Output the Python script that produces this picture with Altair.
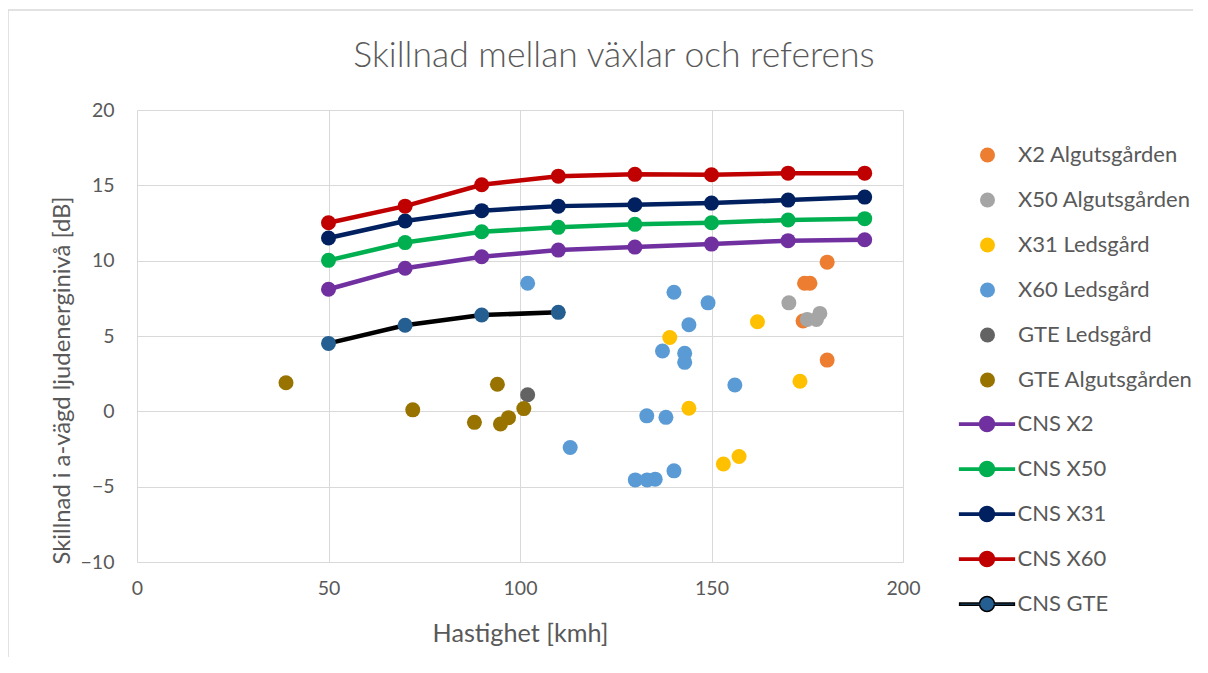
import altair as alt
import pandas as pd

# ---------------- data ----------------
scatter_series = ["X2 Algutsgården", "X50 Algutsgården", "X31 Ledsgård",
                  "X60 Ledsgård", "GTE Ledsgård", "GTE Algutsgården"]
scatter_colors = ["#ED7D31", "#A5A5A5", "#FFC000", "#5B9BD5", "#636363", "#997300"]

x2_alg_speed = [180.2, 174.3, 175.7, 173.9, 180.2]
x2_alg_diff = [9.9, 8.5, 8.5, 6.0, 3.4]
x50_alg_speed = [170.2, 175.0, 177.4, 178.3]
x50_alg_diff = [7.2, 6.1, 6.1, 6.5]
x31_led_speed = [139.1, 144.1, 153.1, 157.2, 162.0, 173.1]
x31_led_diff = [4.9, 0.2, -3.5, -3.0, 5.95, 2.0]
x60_led_speed = [102.0, 113.1, 140.2, 149.1, 144.1, 137.2, 143.0, 143.0, 156.1,
                 133.1, 138.1, 130.1, 133.2, 135.3, 140.2]
x60_led_diff = [8.5, -2.4, 7.9, 7.2, 5.75, 4.0, 3.85, 3.25, 1.75,
                -0.3, -0.4, -4.55, -4.55, -4.5, -3.95]
gte_led_speed = [102.0]
gte_led_diff = [1.1]
gte_alg_speed = [38.9, 72.0, 94.1, 88.1, 94.9, 97.0, 101.0]
gte_alg_diff = [1.9, 0.1, 1.8, -0.73, -0.84, -0.42, 0.18]

cns_series = ["CNS X2", "CNS X50", "CNS X31", "CNS X60", "CNS GTE"]
cns_line_colors = ["#7030A0", "#00B050", "#002060", "#C00000", "#000000"]
cns_marker_colors = ["#7030A0", "#00B050", "#002060", "#C00000", "#255E91"]

cns_speed = [50, 70, 90, 110, 130, 150, 170, 190]
cns_x2 = [8.1, 9.5, 10.26, 10.7, 10.9, 11.1, 11.33, 11.39]
cns_x50 = [10.02, 11.2, 11.92, 12.21, 12.41, 12.52, 12.7, 12.79]
cns_x31 = [11.5, 12.63, 13.32, 13.62, 13.71, 13.82, 14.02, 14.22]
cns_x60 = [12.52, 13.62, 15.04, 15.61, 15.73, 15.7, 15.81, 15.81]
cns_gte_speed = [50, 70, 90, 110]
cns_gte = [4.51, 5.71, 6.39, 6.57]

x_ticks = [0, 50, 100, 150, 200]
y_ticks = [-10, -5, 0, 5, 10, 15, 20]

# ---------------- tables ----------------
rows = []
for i, (name, sp, dv) in enumerate(zip(
        scatter_series,
        [x2_alg_speed, x50_alg_speed, x31_led_speed, x60_led_speed, gte_led_speed, gte_alg_speed],
        [x2_alg_diff, x50_alg_diff, x31_led_diff, x60_led_diff, gte_led_diff, gte_alg_diff])):
    for s, d in zip(sp, dv):
        rows.append({"series": name, "speed": s, "diff": d, "ord": i})
scatter_df = pd.DataFrame(rows)

crows = []
for i, (name, sp, dv) in enumerate(zip(
        cns_series,
        [cns_speed, cns_speed, cns_speed, cns_speed, cns_gte_speed],
        [cns_x2, cns_x50, cns_x31, cns_x60, cns_gte])):
    for s, d in zip(sp, dv):
        crows.append({"cns": name, "speed": s, "diff": d, "ord": i})
cns_df = pd.DataFrame(crows)

FONT = "Lato"
GREY = "#595959"

x_enc = alt.X("speed:Q", scale=alt.Scale(domain=[0, 200], nice=False, zero=False),
              axis=alt.Axis(values=x_ticks, title="Hastighet [kmh]", labelPadding=17,
                            labelFlush=False, titleY=71, titleBaseline="middle",
                            titleFontSize=25.2))
y_enc = alt.Y("diff:Q", scale=alt.Scale(domain=[-10, 20], nice=False, zero=False),
              axis=alt.Axis(values=y_ticks, title="Skillnad i a-vägd ljudenerginivå [dB]",
                            labelPadding=23, labelFlush=False, titleX=-75, titleY=270,
                            titleAngle=270, titleAlign="center", titleBaseline="middle",
                            titleFontSize=23.8))

line_symbol = ("M-3.65,-0.15 L-0.9887,-0.15 A1,1 0 0,1 0.9887,-0.15 L3.65,-0.15 "
               "L3.65,0.15 L0.9887,0.15 A1,1 0 0,1 -0.9887,0.15 L-3.65,0.15 Z")

cns_legend = alt.Legend(title=None, orient="none", legendX=839, legendY=303,
                        symbolType=line_symbol, symbolSize=225, symbolStrokeWidth=1.5,
                        labelFont=FONT, labelFontSize=22, labelColor=GREY, labelLimit=300,
                        labelOffset=19.5, rowPadding=23, padding=0, symbolOpacity=1)

scatter = alt.Chart(scatter_df).mark_circle(size=225, opacity=1).encode(
    x=x_enc, y=y_enc,
    color=alt.Color("series:N", scale=alt.Scale(domain=scatter_series, range=scatter_colors),
                    legend=alt.Legend(title=None, orient="none", legendX=839.5, legendY=34,
                                      symbolType="circle", symbolSize=225, symbolStrokeWidth=0,
                                      labelFont=FONT, labelFontSize=22, labelColor=GREY,
                                      labelLimit=300, labelOffset=19.5, rowPadding=23,
                                      padding=0, symbolOpacity=1)),
    order=alt.Order("ord:Q"),
)

lines = alt.Chart(cns_df).mark_line().encode(
    x=x_enc, y=y_enc,
    stroke=alt.Stroke("cns:N", scale=alt.Scale(domain=cns_series, range=cns_line_colors),
                      legend=cns_legend),
    strokeWidth=alt.value(4.5),
    detail="cns:N",
)

markers = alt.Chart(cns_df).mark_circle(size=225, opacity=1).encode(
    x=x_enc, y=y_enc,
    fill=alt.Fill("cns:N", scale=alt.Scale(domain=cns_series, range=cns_marker_colors),
                  legend=cns_legend),
)

border = alt.Chart(pd.DataFrame({"a": [0]})).mark_rule(color="#D9D9D9", strokeWidth=1.5).encode(
    x=alt.value(-129), x2=alt.value(1070), y=alt.value(-100))
border2 = alt.Chart(pd.DataFrame({"a": [0]})).mark_rule(color="#D9D9D9", strokeWidth=1.5).encode(
    x=alt.value(-129), y=alt.value(-100), y2=alt.value(600))

chart = alt.layer(border, border2, scatter, lines, markers).properties(
    width=766, height=452,
    background="white",
    title=alt.TitleParams("Skillnad mellan växlar och referens", font=FONT, fontSize=35.5,
                          fontWeight=300, color=GREY, anchor="middle", frame="group",
                          dx=94, dy=82, offset=0, baseline="middle"),
    autosize=alt.AutoSizeParams(type="none"),
    padding={"left": 129, "top": 102, "right": 290, "bottom": 95},
).configure_view(stroke=None).configure_axis(
    labelFont=FONT, labelFontSize=19.5, labelColor=GREY,
    titleFont=FONT, titleColor=GREY, titleFontWeight="normal",
    grid=True, gridColor="#D9D9D9", gridWidth=1, domain=False, ticks=False,
)

chart.save("out.html", embed_options={"renderer": "svg", "actions": False})
